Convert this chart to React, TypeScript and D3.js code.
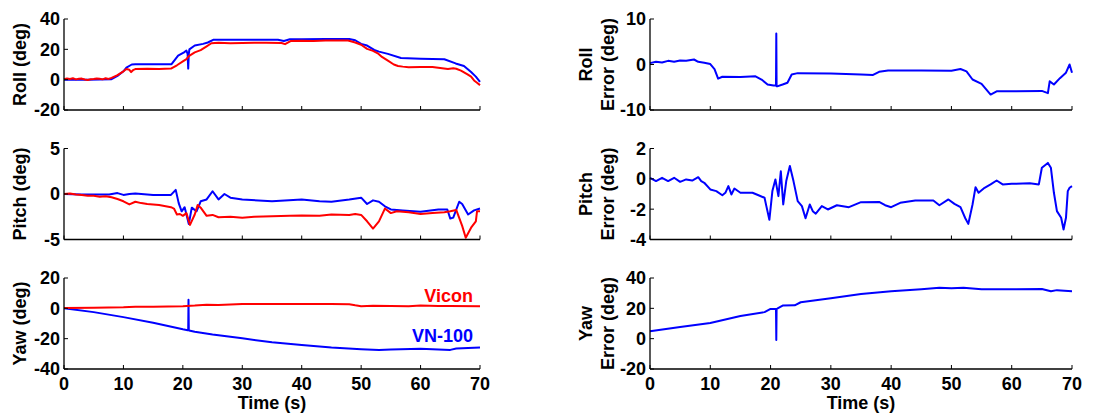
import React, { useEffect } from "react";
import * as d3 from "d3";

// ---------- Data ----------
const xTicks = [0, 10, 20, 30, 40, 50, 60, 70];

const rollVicon_t = [0,0.5,1,1.5,2,2.5,3,3.5,4,4.5,5,5.5,6,6.5,7,7.5,8,9,10,10.5,11,11.3,11.7,12,14,16,18,19,20,20.6,21,22,23,24,24.8,26,28,30,32,34,36.6,37.2,38.2,40,42,44,47.8,49,50,51,52,52.8,53.5,54.5,55.5,56.2,57,58,60,62,64.6,65.5,66,66.8,67.9,68.5,69,69.5,70];
const rollVicon_v = [0.3,0.8,0.5,0.9,0.2,0.6,0.7,0.1,-0.2,0.3,0.4,0.8,0.6,0.2,0.9,0.5,1.2,3,5.5,7,6.5,5,6.5,7,7.2,7.1,7.3,9.5,12,13.5,15.5,18,19.5,22,24,24.3,24.0,24.1,24.3,24.4,24.2,23.4,25.5,25.7,25.5,25.8,25.8,24.5,23,20.3,19,17.4,15,12.5,10,9,8.6,8.2,8.4,8.3,7,7.5,7.2,6,3.5,2,-0.5,-2,-3.6];
const rollVN_t = [0,4,8,9,10,10.5,11.4,12,15,18.1,19.2,20.2,20.6,20.8,20.9,21.0,21.1,22,23.4,24.2,25.1,30,36,37,38,40,44,48,49,50,51,52.2,53,54.5,56.7,60,64,65.9,67.3,68.5,69.3,70];
const rollVN_v = [0,0,0.3,2.5,5.5,8,10,10.2,10.2,10.2,15.8,18,19.2,17,7.3,17,20,22.5,23.6,24.5,26.3,26.3,26.3,25.5,26.6,26.7,26.8,26.8,26,23.6,22.5,19.6,18.5,17,14.3,13.8,13.5,10.7,9,5,2,-1.5];

const pitchVicon_t = [0,1,2,3,4,5,6,7,8,9,10,11,12,13,14,16,18,18.5,19,19.5,20,20.6,21.2,22,22.5,23,24,25,26,28,30,32,35,38,40,43,45,48,49,50,51,52,53,54,55,56,58,60,62,64,65,66,67,67.6,68.5,69.3,69.5,70];
const pitchVicon_v = [0,0.05,-0.05,-0.1,-0.2,-0.2,-0.3,-0.25,-0.35,-0.55,-0.8,-1.15,-0.85,-1.0,-1.1,-1.2,-1.45,-1.6,-2.25,-2.2,-2.4,-2.1,-3.4,-2.25,-1.2,-1.5,-2.4,-2.3,-2.55,-2.5,-2.6,-2.5,-2.45,-2.4,-2.35,-2.4,-2.25,-2.3,-2.2,-2.3,-3.0,-3.8,-3.0,-1.6,-2.1,-1.9,-2.0,-2.2,-2.1,-2.0,-1.9,-1.75,-3.5,-4.8,-3.7,-3.0,-1.9,-1.9];
const pitchVN_t = [0,3,5,7.6,9,10,11,12,15,18,18.8,19.3,19.8,20.3,21,21.5,22.3,23,24,25,26,27,28,30,35,40,43,45,48,50,51,52,53,54,55,57,60,63,64.5,65,65.5,66.5,67,68,69,70];
const pitchVN_v = [0,-0.05,-0.05,-0.05,0.1,-0.1,0.0,0.05,-0.1,-0.1,0.45,-1,-1.9,-1.45,-3.3,-1.5,-1.9,-0.8,-0.6,0.3,-0.6,0,-0.4,-0.6,-0.8,-0.6,-0.8,-0.85,-0.6,-0.4,-1.1,-0.7,-0.85,-1.35,-1.7,-1.8,-1.95,-1.7,-1.7,-2.7,-2.6,-0.85,-1.1,-2.25,-1.8,-1.6];

const yawVicon_t = [0,5,10,12,15,20,22,24,26,30,35,40,45,48,49,50,52,55,58,60,63,65,70];
const yawVicon_v = [0.3,0.4,0.7,1.0,1.0,1.4,1.8,2.4,2.2,2.9,2.8,2.9,2.8,2.7,2.0,1.4,1.7,1.5,1.3,1.8,1.5,1.6,1.4];
const yawVN_t = [0,5,10,15,20,20.8,20.9,20.95,21.0,21.05,22,25,30,35,40,45,50,53,55,60,65,66,70];
const yawVN_v = [0,-2.5,-5.8,-9.5,-13.8,-14.4,-14.5,5.7,-14.5,-14.6,-15.5,-17.3,-19.8,-22.4,-24.2,-25.9,-27,-27.4,-27.1,-26.7,-27.4,-26.5,-25.8];

const rollErr_t = [0,1,2,3,4,5,6,7.3,8,9,10,10.7,11.3,12,15,17.5,18.5,19.5,20.5,20.9,20.95,21.0,21.1,22,22.8,23.5,24.5,30,35,37,38,39.5,45,50,51.5,52.5,53.5,55,56.5,57.5,60,65,66,66.3,67,68,69,69.6,70];
const rollErr_v = [0.3,0.6,0.45,0.8,0.6,0.9,0.8,1.1,0.6,0.4,0.1,-1,-3.1,-2.7,-2.75,-2.6,-3.3,-4.4,-4.6,-4.6,6.8,-4.8,-4.8,-4.4,-4,-2.2,-1.9,-2,-2.2,-2.3,-1.6,-1.3,-1.3,-1.35,-1.0,-1.5,-3.3,-4.25,-6.6,-5.9,-5.9,-5.8,-6.3,-3.7,-4.4,-3,-1.8,0,-1.8];

const pitchErr_t = [0,1,2,3,4,5,6,7,8,8.5,9,10,11,12,12.5,13,13.5,14,15,17,18,19,19.3,19.8,20.3,20.8,21.3,21.7,22.1,22.6,23.2,23.8,24.5,25.2,25.8,26.5,27,27.5,28.5,29.5,31,33,35,38,39,40,41.5,44,47,48,49.5,50.5,51.5,52.3,52.8,53.5,54,54.5,55.5,56.5,57.5,58.5,60,63,64.5,65,66,66.5,67,67.5,68.2,68.6,69,69.3,69.6,70];
const pitchErr_v = [0.07,-0.15,0.07,-0.15,0.07,-0.2,-0.04,-0.11,0.11,-0.15,-0.26,-0.7,-0.81,-1.08,-0.92,-0.48,-1.03,-0.64,-0.92,-0.92,-1.08,-1.25,-1.8,-2.7,-0.81,-0.04,-1.14,0.5,-1.69,-0.15,0.84,-0.15,-1.47,-1.8,-2.6,-1.69,-2.13,-2.3,-1.8,-2.02,-1.74,-1.87,-1.54,-1.52,-1.74,-1.87,-1.58,-1.43,-1.43,-1.74,-1.36,-1.65,-1.87,-2.6,-2.97,-1.69,-0.55,-0.92,-0.59,-0.37,-0.11,-0.37,-0.33,-0.29,-0.37,0.73,1.05,0.73,-0.92,-2.13,-2.57,-3.34,-2.57,-0.81,-0.59,-0.48];

const yawErr_t = [0,5,10,15,19,20,20.9,20.95,21.0,21.1,22,24,25,30,35,40,45,48,50,52,55,60,65,66.5,67.5,70];
const yawErr_v = [4.9,7.7,10.3,14.9,17.5,19.6,19.6,-0.9,19.6,19.8,21.8,22,24,26.6,29.4,31.3,32.6,33.5,33.2,33.5,32.6,32.6,32.8,31.3,32,31.3];

const rollTicks = [-20, 0, 20, 40];
const pitchTicks = [-5, 0, 5];
const yawTicks = [-40, -20, 0, 20];
const rollErrTicks = [-10, 0, 10];
const pitchErrTicks = [-4, -2, 0, 2];
const yawErrTicks = [-20, 0, 20, 40];

// ---------- Layout ----------
const W = 1099, H = 415;
const FONT = "'Liberation Sans', Arial, Helvetica, sans-serif";
const BLUE = "#0000ff", RED = "#ff0000";
const COLS = [{ x0: 64, x1: 480, lab: [26] }, { x0: 650, x1: 1072, lab: [592, 614] }];
const TOPS = [19, 148.5, 278];
const PH = 91;

type Series = { t: number[]; v: number[]; color: string };
type Panel = {
  col: number; row: number; ticks: number[]; label: string[];
  series: Series[]; xLabels: boolean;
};

const panels: Panel[] = [
  { col: 0, row: 0, ticks: rollTicks, label: ["Roll (deg)"], xLabels: false,
    series: [{ t: rollVN_t, v: rollVN_v, color: BLUE }, { t: rollVicon_t, v: rollVicon_v, color: RED }] },
  { col: 0, row: 1, ticks: pitchTicks, label: ["Pitch (deg)"], xLabels: false,
    series: [{ t: pitchVN_t, v: pitchVN_v, color: BLUE }, { t: pitchVicon_t, v: pitchVicon_v, color: RED }] },
  { col: 0, row: 2, ticks: yawTicks, label: ["Yaw (deg)"], xLabels: true,
    series: [{ t: yawVN_t, v: yawVN_v, color: BLUE }, { t: yawVicon_t, v: yawVicon_v, color: RED }] },
  { col: 1, row: 0, ticks: rollErrTicks, label: ["Roll", "Error (deg)"], xLabels: false,
    series: [{ t: rollErr_t, v: rollErr_v, color: BLUE }] },
  { col: 1, row: 1, ticks: pitchErrTicks, label: ["Pitch", "Error (deg)"], xLabels: false,
    series: [{ t: pitchErr_t, v: pitchErr_v, color: BLUE }] },
  { col: 1, row: 2, ticks: yawErrTicks, label: ["Yaw", "Error (deg)"], xLabels: true,
    series: [{ t: yawErr_t, v: yawErr_v, color: BLUE }] },
];

function PanelView({ p }: { p: Panel }) {
  const c = COLS[p.col];
  const top = TOPS[p.row];
  const bottom = top + PH;
  const x = d3.scaleLinear().domain([0, 70]).range([c.x0, c.x1]);
  const y = d3.scaleLinear().domain([p.ticks[0], p.ticks[p.ticks.length - 1]]).range([bottom, top]);
  const line = d3.line<[number, number]>().x((d) => x(d[0])).y((d) => y(d[1]));
  const midY = (top + bottom) / 2;
  return (
    <g>
      {p.series.map((s, i) => (
        <path key={i} d={line(s.t.map((t, j) => [t, s.v[j]] as [number, number])) || ""}
          fill="none" stroke={s.color} strokeWidth={2} strokeLinejoin="round" />
      ))}
      <line x1={c.x0} x2={c.x1} y1={bottom} y2={bottom} stroke="#000" strokeWidth={1.3} />
      <line x1={c.x0} x2={c.x0} y1={top} y2={bottom} stroke="#000" strokeWidth={1.3} />
      {xTicks.map((t) => (
        <g key={"xt" + t}>
          <line x1={x(t)} x2={x(t)} y1={bottom} y2={bottom - 4} stroke="#000" strokeWidth={1} />
          {p.xLabels && (
            <text x={x(t)} y={bottom + 21} textAnchor="middle" fontSize={18} fontWeight="bold" fontFamily={FONT}>{t}</text>
          )}
        </g>
      ))}
      {p.ticks.map((v) => (
        <g key={"yt" + v}>
          <line x1={c.x0} x2={c.x0 + 4} y1={y(v)} y2={y(v)} stroke="#000" strokeWidth={1} />
          <text x={c.x0 - 4} y={y(v)} dy="0.36em" textAnchor="end" fontSize={18} fontWeight="bold" fontFamily={FONT}>{v}</text>
        </g>
      ))}
      {p.label.map((l, i) => (
        <text key={"yl" + i} transform={`translate(${c.lab[i]},${midY}) rotate(-90)`} textAnchor="middle" fontSize={18} fontWeight="bold" fontFamily={FONT}>{l}</text>
      ))}
      {p.xLabels && (
        <text x={(c.x0 + c.x1) / 2} y={409} textAnchor="middle" fontSize={18} fontWeight="bold" fontFamily={FONT}>Time (s)</text>
      )}
    </g>
  );
}

export default function App() {
  useEffect(() => {
    document.body.style.margin = "0";
  }, []);
  return (
    <svg width={W} height={H} style={{ display: "block", background: "#fff" }}>
      <rect width={W} height={H} fill="#fff" />
      {panels.map((p, i) => <PanelView key={i} p={p} />)}
      <text x={473} y={302} textAnchor="end" fontSize={18} fontWeight="bold" fontFamily={FONT} fill={RED}>Vicon</text>
      <text x={473} y={342} textAnchor="end" fontSize={18} fontWeight="bold" fontFamily={FONT} fill={BLUE}>VN-100</text>
    </svg>
  );
}
